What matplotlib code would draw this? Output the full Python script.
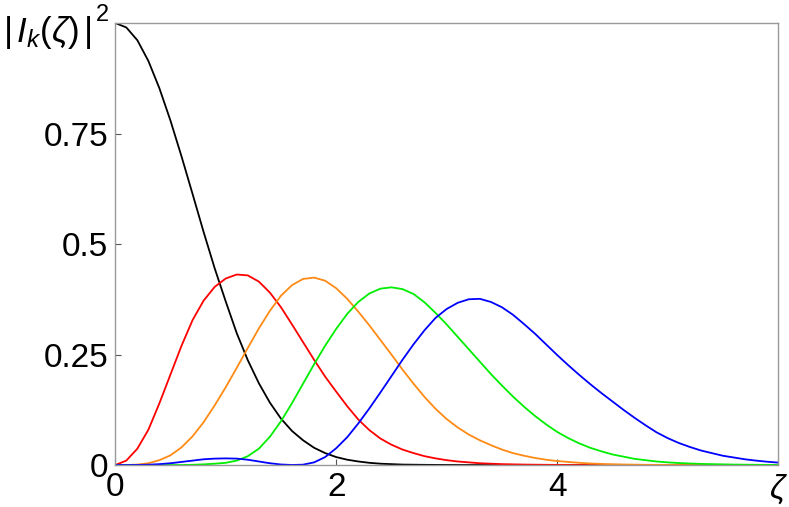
import numpy as np
import matplotlib
matplotlib.use('Agg')
import matplotlib.pyplot as plt

# sampling grid in zeta (step 0.1) and curve values
zeta = np.linspace(0, 6, 61)

k0_black = [1.0, 0.99, 0.961, 0.914, 0.852, 0.779, 0.698, 0.613, 0.527, 0.445,
            0.37, 0.298, 0.237, 0.185, 0.141, 0.105, 0.077, 0.056, 0.039, 0.027,
            0.018, 0.012, 0.008, 0.005, 0.003, 0.002, 0.001, 0.0007, 0.0004, 0.0002,
            0.0001] + [0.0] * 30

k1_red = [0.0, 0.01, 0.037, 0.08, 0.14, 0.205, 0.27, 0.328, 0.372, 0.403,
          0.422, 0.431, 0.429, 0.415, 0.39, 0.357, 0.318, 0.278, 0.238, 0.2,
          0.166, 0.133, 0.103, 0.079, 0.06, 0.046, 0.035, 0.027, 0.02, 0.015,
          0.011, 0.008, 0.006, 0.004, 0.003, 0.002, 0.0015, 0.001, 0.0007, 0.0005,
          0.0003, 0.0002, 0.0001] + [0.0] * 18

k2_orange = [0.0, 0.0, 0.001, 0.004, 0.011, 0.022, 0.04, 0.065, 0.097, 0.135,
             0.176, 0.22, 0.265, 0.309, 0.349, 0.383, 0.407, 0.421, 0.424, 0.417,
             0.4, 0.376, 0.347, 0.316, 0.283, 0.25, 0.216, 0.184, 0.154, 0.127,
             0.104, 0.085, 0.069, 0.056, 0.045, 0.035, 0.027, 0.021, 0.016, 0.012,
             0.009, 0.007, 0.005, 0.0035, 0.0025, 0.0018, 0.0012, 0.0008, 0.0005, 0.0003,
             0.0002] + [0.0] * 10

k3_green = [0.0] * 7 + [
            0.0005, 0.0015, 0.003,
            0.005, 0.01, 0.02, 0.037, 0.064, 0.099, 0.14, 0.184, 0.228, 0.27,
            0.308, 0.342, 0.369, 0.388, 0.399, 0.402, 0.398, 0.387, 0.368, 0.344,
            0.318, 0.29, 0.262, 0.234, 0.206, 0.18, 0.155, 0.132, 0.111, 0.092,
            0.075, 0.061, 0.049, 0.039, 0.031, 0.024, 0.019, 0.014, 0.011, 0.008,
            0.006, 0.0045, 0.0035, 0.0025, 0.002, 0.0015, 0.001, 0.0007, 0.0005, 0.0003,
            0.0002]

k4_blue = [0.0, 0.0, 0.0002, 0.0007, 0.002, 0.004, 0.007, 0.01, 0.013, 0.0145,
           0.015, 0.0145, 0.012, 0.008, 0.004, 0.0012, 0.0001, 0.0008, 0.006, 0.018,
           0.038, 0.063, 0.094, 0.128, 0.164, 0.201, 0.238, 0.273, 0.305, 0.333,
           0.353, 0.367, 0.375, 0.376, 0.369, 0.357, 0.34, 0.319, 0.297, 0.273,
           0.249, 0.226, 0.204, 0.183, 0.163, 0.144, 0.125, 0.107, 0.09, 0.074,
           0.061, 0.05, 0.041, 0.033, 0.027, 0.021, 0.017, 0.013, 0.01, 0.0075,
           0.0055]

curves = [k0_black, k1_red, k2_orange, k3_green, k4_blue]
colors = ['#000000', '#ff0000', '#ff8a14', '#00ee00', '#0000ff']

xticks = [0, 2, 4, 6]
xtick_labels = ['0', '2', '4', r'$\zeta$']
yticks = [0, 0.25, 0.5, 0.75]
ytick_labels = ['0', '0.25', '0.5', '0.75']

plt.rcParams['font.family'] = ['Liberation Sans', 'DejaVu Sans']
plt.rcParams['mathtext.fontset'] = 'custom'
plt.rcParams['mathtext.rm'] = 'Liberation Sans'
plt.rcParams['mathtext.it'] = 'Liberation Sans:italic'

fig = plt.figure(figsize=(7.89, 5.07), dpi=100)
ax = fig.add_axes([0.1461, 0.0828, 0.8400, 0.8718])

for vals, c in zip(curves, colors):
    ax.plot(zeta, vals, color=c, lw=1.3, solid_joinstyle='round')

ax.set_xlim(0, 6)
ax.set_ylim(0, 1)
ax.set_xticks(xticks)
ax.set_xticklabels(xtick_labels)
ax.set_yticks(yticks)
ax.set_yticklabels(ytick_labels)
ax.tick_params(direction='in', length=4, width=0.8, color='#555555',
               labelsize=24, pad=5)

for s in ax.spines.values():
    s.set_color('#999999')
    s.set_linewidth(1.0)

# y label sits in the top-left corner, the square drawn a bit apart
fig.text(0.004, 0.918, r'$|\,I_k(\zeta)\,|$', fontsize=25, ha='left', va='baseline')
fig.text(0.122, 0.958, '2', fontsize=17, ha='left', va='baseline')

fig.savefig('out.png', dpi=100)
